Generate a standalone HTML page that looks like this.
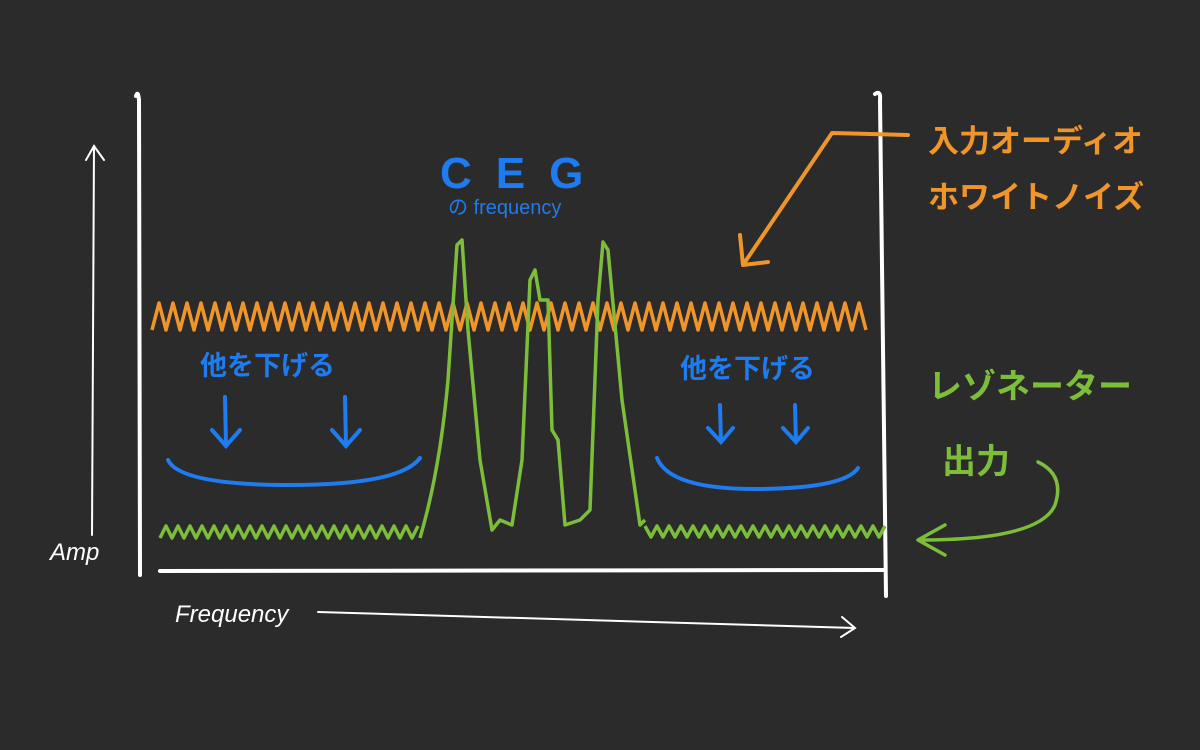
<!DOCTYPE html>
<html><head><meta charset="utf-8"><style>
html,body{margin:0;padding:0;background:#2b2b2b;}
svg{display:block}
text{font-family:"Liberation Sans","Noto Sans CJK JP",sans-serif;}
</style></head><body>
<svg width="1200" height="750" viewBox="0 0 1200 750" xmlns="http://www.w3.org/2000/svg">
<rect width="1200" height="750" fill="#2b2b2b"/>
<g fill="none" stroke="#ffffff" stroke-width="4" stroke-linecap="round" stroke-linejoin="round">
<path d="M136 96 Q138 90 139 100 L140 575"/>
<path d="M160 571 L885 570"/>
<path d="M875 94 Q881 90 880 100 L886 596"/>
</g>
<g fill="none" stroke="#ffffff" stroke-width="2" stroke-linecap="round">
<path d="M92 535 L94 146 M86 160 L94 146 L104 160"/>
<path d="M318 612 L855 628 M842 617 L855 628 L841 637"/>
</g>
<text x="50" y="560" fill="#fff" font-size="24" font-style="italic">Amp</text>
<text x="175" y="622" fill="#fff" font-size="24" font-style="italic">Frequency</text>
<path id="orange" fill="none" stroke="#f0952a" stroke-width="3.5" stroke-linejoin="round" d=""/>
<g fill="none" stroke="#7cbe3a" stroke-width="3.5" stroke-linejoin="round">
<path id="gl" d=""/>
<path d="M420 538 Q440 470 448 380 L457 245 L462 240 L468 330 L480 460 L492 530 L500 520 L512 525 L522 460 L530 280 L535 270 L540 300 L548 300 L552 430 L558 440 L565 525 L580 520 L590 510 L598 300 L603 242 L608 250 L622 400 L640 525 L645 520"/>
<path id="gr" d=""/>
<path d="M1038 462 Q1065 475 1055 505 Q1040 540 920 540 M945 525 L918 540 L945 555" stroke-linecap="round"/>
</g>
<g fill="none" stroke="#1e7bf0" stroke-width="4" stroke-linecap="round">
<path d="M168 460 Q180 485 290 485 Q400 485 420 458"/>
<path d="M657 458 Q670 490 760 489 Q845 488 858 468"/>
<path d="M225 397 L226 446 M212 430 L226 446 L240 430"/>
<path d="M345 397 L346 446 M332 430 L346 446 L360 430"/>
<path d="M720 405 L721 442 M708 428 L721 442 L733 428"/>
<path d="M795 405 L796 442 M783 428 L796 442 L808 428"/>
</g>
<text x="440" y="188" fill="#1e7bf0" font-size="44" letter-spacing="24" font-weight="bold">CEG</text>
<text x="448" y="214" fill="#1e7bf0" font-size="20">の frequency</text>
<text x="200" y="375" fill="#1e7bf0" font-size="27" font-weight="600">他を下げる</text>
<text x="680" y="378" fill="#1e7bf0" font-size="27" font-weight="600">他を下げる</text>
<g fill="none" stroke="#f0952a" stroke-width="4" stroke-linecap="round" stroke-linejoin="round">
<path d="M908 135 L832 133 L745 262 M740 235 L743 265 L768 262"/>
</g>
<text x="928" y="152" fill="#f0952a" font-size="31" font-weight="600">入力オーディオ</text>
<text x="928" y="208" fill="#f0952a" font-size="31" font-weight="600">ホワイトノイズ</text>
<text x="928" y="398" fill="#7cbe3a" font-size="34" font-weight="600">レゾネーター</text>
<text x="942" y="473" fill="#7cbe3a" font-size="34" font-weight="600">出力</text>
</svg>
<script>
function wave(x0,x1,yb,yt,p){var d="M"+x0+" "+yb,x=x0,up=true;while(x+p/2<=x1){x+=p/2;d+=" L"+x.toFixed(1)+" "+(up?yt:yb);up=!up;}return d;}
document.getElementById("orange").setAttribute("d",wave(152,870,330,303,14));
document.getElementById("gl").setAttribute("d",wave(160,420,538,526,12));
document.getElementById("gr").setAttribute("d",wave(645,888,526,537,12));
</script>
</body></html>
